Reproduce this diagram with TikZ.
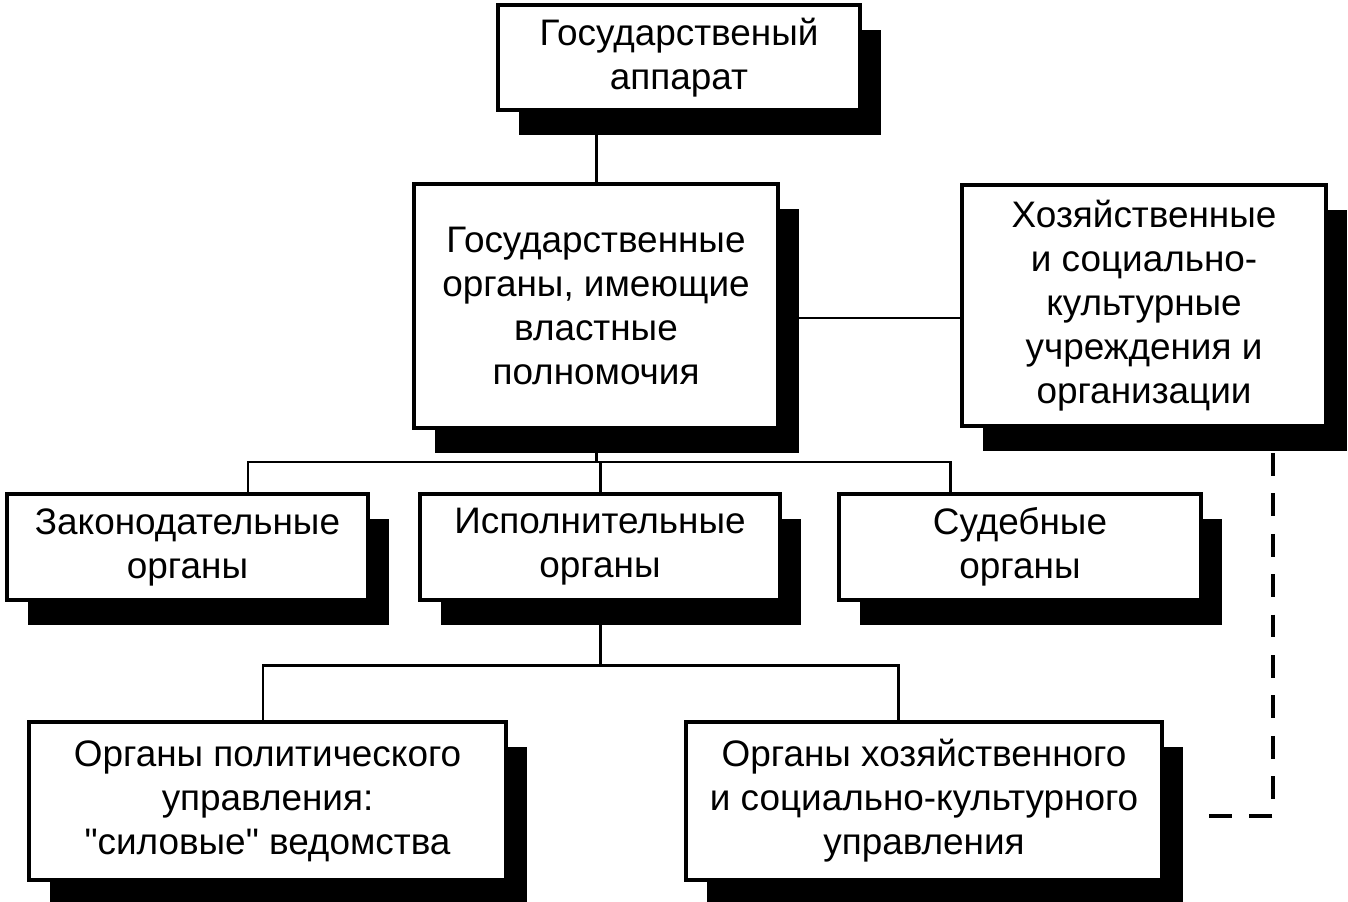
\documentclass[tikz,border=0pt]{standalone}
\usepackage{fontspec}
\setmainfont{Liberation Sans}[Ligatures=TeXOff]
\usetikzlibrary{shadows,backgrounds}
\begin{document}
\begin{tikzpicture}[x=0.02cm,y=-0.02cm,
  box/.style={draw=black, line width=2.3pt, fill=white, align=center, inner sep=0pt,
    font=\fontsize{21}{25}\selectfont,
    drop shadow={shadow xshift=0.42cm, shadow yshift=-0.5cm, opacity=1, fill=black}},
  conn/.style={line width=1.7pt},
  dashline/.style={line width=2.2pt, dash pattern=on 13pt off 10pt}]
\useasboundingbox (0,0) rectangle (1348,902);

\node[box, minimum width=7.24cm, minimum height=2.1cm] (A) at (679,57.5) {Государственый\\аппарат};
\node[box, minimum width=7.28cm, minimum height=4.88cm] (B) at (596,306) {Государственные\\органы, имеющие\\властные\\полномочия};
\node[box, minimum width=7.28cm, minimum height=4.82cm] (C) at (1144,305.5) {Хозяйственные\\и социально-\\культурные\\учреждения и\\организации};
\node[box, minimum width=7.22cm, minimum height=2.12cm] (D) at (187.5,547) {Законодательные\\органы};
\node[box, minimum width=7.2cm, minimum height=2.12cm] (E) at (600,547) {Исполнительные\\органы};
\node[box, minimum width=7.24cm, minimum height=2.12cm] (F) at (1020,547) {Судебные\\органы};
\node[box, minimum width=9.54cm, minimum height=3.16cm] (G) at (267.5,801) {Органы политического\\управления:\\"силовые" ведомства};
\node[box, minimum width=9.52cm, minimum height=3.16cm] (H) at (924,801) {Органы хозяйственного\\и социально-культурного\\управления};

\coordinate (bc) at (870,318);
\coordinate (jD) at (248,462);
\coordinate (jF) at (950,462);
\coordinate (jG) at (263,665);
\coordinate (jH) at (898,665);
\coordinate (dTop) at (1273,453);
\coordinate (dCorner) at (1273,816);
\coordinate (dEnd) at (1200,816);

\begin{scope}[on background layer]
\draw[conn] (B.north) -- (B.north |- A.south);
\draw[conn] (B.east |- bc) -- (C.west |- bc);
\draw[conn] (B.south) -- (B.south |- jD);
\draw[conn] (jD |- D.north) -- (jD) -- (jF) -- (jF |- F.north);
\draw[conn] (E.north) -- (E.north |- jD);
\draw[conn] (E.south) -- (E.south |- jG);
\draw[conn] (jG |- G.north) -- (jG) -- (jH) -- (jH |- H.north);
\end{scope}
\draw[dashline] (dTop) -- (dCorner) -- (dEnd);
\end{tikzpicture}
\end{document}
